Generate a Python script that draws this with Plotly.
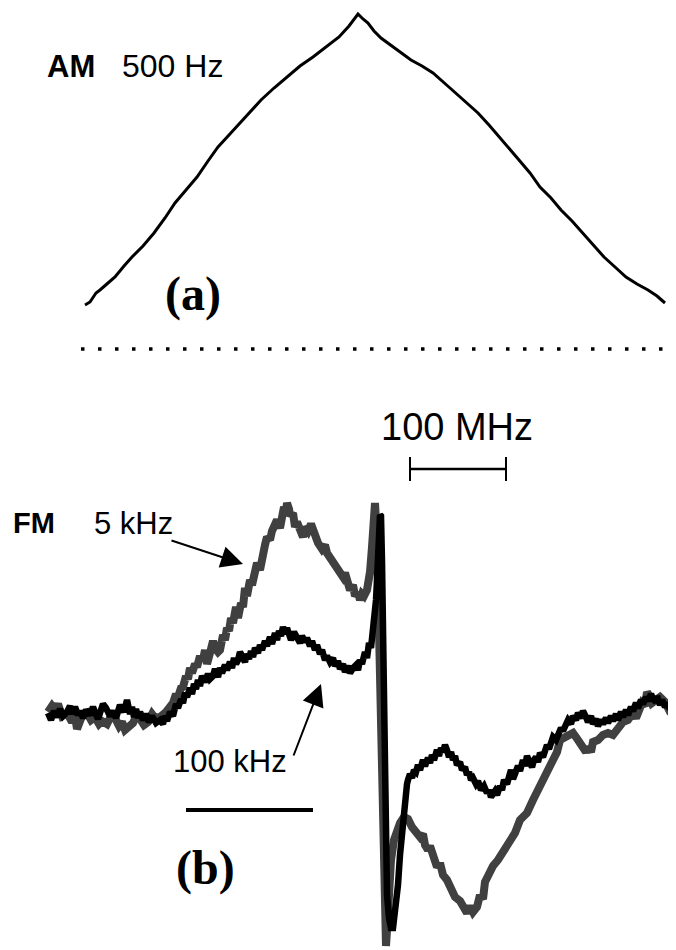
"""Two-panel AM / FM trace figure, drawn on a pixel-like canvas."""

import plotly.graph_objects as go

# ---- data (canvas units, y grows downward) ----
am_x = [85, 90, 96, 100, 108, 115, 124, 132, 143, 154, 165, 175, 186, 197, 208,
        218, 229, 240, 250, 261, 274, 287, 300, 313, 326, 339, 349, 358,
        363, 368, 374, 381, 396, 411, 422, 433, 450, 467, 478, 489, 504, 519,
        530, 540, 551, 561, 572, 583, 594, 604, 615, 626, 637, 648, 657, 665]
am_y = [305, 302, 293, 290, 283, 277, 266, 257, 246, 233, 218, 203, 190, 177, 161,
        147, 135, 123, 111, 100, 88, 77, 66, 57, 47, 37, 26, 14,
        19, 23, 31, 38, 49, 60, 66, 73, 88, 103, 113, 125, 142, 160,
        173, 187, 198, 210, 221, 233, 245, 257, 267, 277, 284, 290, 296, 303]

gray_x = [48, 52, 55, 58, 62, 67, 72, 75, 77, 80, 82, 87, 91, 95, 99, 102, 107, 111, 115,
          119, 122, 125, 128, 133, 137, 140, 144, 148, 152, 155, 160, 166, 170, 173, 176,
          178, 181, 183, 186, 188, 190, 192, 195, 197, 200, 203, 205, 207, 210,
          213, 215, 218, 220, 223, 225, 227, 229, 231, 233, 236, 238, 241, 243, 245,
          247, 250, 252, 254, 257, 260, 262, 265, 267, 270, 272, 275, 277, 280, 282,
          284, 286, 287, 289, 290, 293, 295, 297, 300, 303, 305, 308, 311, 313, 316,
          318, 322, 325, 327, 330, 333, 337, 340, 343, 345, 348, 350, 353, 355, 358,
          360, 362, 364, 367, 370, 372, 374, 375, 377,
          379, 381, 383, 384, 385, 386, 387, 389, 391, 394, 397, 400, 404, 408, 412, 416,
          420, 423, 425, 428, 430, 434, 437, 440, 443, 447, 450, 455, 460, 463, 467,
          470, 473, 477, 480, 483, 485, 488, 490, 493,
          498, 501, 504, 507, 510, 515, 520, 527, 533, 538, 543, 548, 553, 557, 560,
          565, 570, 573, 578, 583, 586, 588, 591, 593, 598, 603, 608, 613, 618, 623,
          628, 633, 636, 638, 642, 645, 647, 650, 652, 656, 660, 665, 670, 676]
gray_y = [712, 706, 710, 704, 716, 713, 722, 716, 729, 718, 716, 713, 720, 717, 724, 721,
          724, 716, 718, 726, 722, 730, 727, 723, 714, 719, 725, 722, 714, 718, 717,
          712, 708, 703, 694, 697, 688, 687, 676, 679, 668, 673, 664, 667, 656,
          660, 650, 664, 653, 641, 648, 652, 650, 635, 640, 628, 631, 618, 623,
          607, 618, 603, 607, 588, 596, 580, 585, 574, 563, 570, 555, 545, 537,
          540, 531, 523, 520, 528, 518, 507, 512, 503, 509, 516, 513, 527, 522,
          528, 537, 527, 531, 524, 530, 540, 543, 549, 545, 553, 558, 563, 568,
          572, 577, 573, 582, 590, 585, 596, 592, 600, 594, 596, 590, 572, 547,
          520, 503, 540, 640, 760, 880, 930, 946, 946, 930, 880, 860, 840, 830, 823, 817,
          819, 827, 832, 837, 834, 845, 850, 846, 858, 867, 863, 875, 880, 888,
          897, 901, 907, 913, 906, 912, 907, 895, 899, 882, 876, 870, 866, 860,
          855, 851, 847, 840, 833, 820, 813, 800, 790, 780, 772, 764, 752, 740,
          737, 735, 733, 740, 746, 752, 747, 752, 742, 740, 735, 733, 735, 728,
          722, 720, 713, 718, 712, 703, 706, 692, 697, 703, 700, 697, 702, 712, 717]

black_x = [48, 51, 54, 57, 60, 63, 67, 70, 72, 75, 78, 80, 83, 86, 90, 93, 95, 98, 100,
           103, 106, 110, 113, 116, 120, 124, 127, 130, 132, 134, 136, 138, 140, 143, 146,
           149, 152, 156, 160, 163, 165, 167, 170, 173, 176, 178, 181, 183, 185, 187, 190,
           192, 194, 196, 198, 200, 202, 205, 208, 210, 213, 215, 218, 220, 222, 225, 227,
           230, 232, 234, 236, 238, 240, 242, 245, 247, 249, 251, 253, 255, 258, 260, 262,
           265, 267, 270, 272, 275, 277, 279, 281, 283, 285, 287, 289, 291, 294, 297, 300,
           302, 305, 307, 310, 312, 315, 317, 320, 322, 325, 327, 330, 333, 335, 338, 340,
           343, 345, 348, 350, 353, 356, 358, 360, 362, 365, 367, 369, 371, 373, 375,
           376, 377, 378, 379, 380, 381, 382, 383, 384, 385, 386, 387, 389, 391, 393, 395,
           398, 400, 402, 404, 405, 407, 408, 410, 412, 414, 416, 418, 420, 423, 425, 428,
           430, 432, 434, 437, 439, 441, 443, 445, 447, 449, 451, 453, 455, 457, 460, 462,
           465, 467, 469, 471, 473, 476, 478, 481, 484, 487, 489, 491, 493, 495, 497, 500,
           502, 504, 507, 509, 511, 513, 515, 518, 520, 523, 525, 527, 530, 532, 534, 536,
           538, 540, 543, 545, 547, 549, 551, 553, 556, 558, 561, 563, 566, 568, 571, 573,
           576, 578, 581, 583, 586, 588, 591, 593, 596, 598, 601, 603, 606, 608, 611, 613,
           616, 618, 621, 623, 626, 628, 631, 633, 636, 638, 641, 643, 646, 648, 651, 653,
           656, 657, 660, 662, 665, 667, 670, 672, 676]
black_y = [713, 720, 711, 717, 709, 716, 712, 706, 714, 707, 715, 711, 718, 710, 715, 707,
           712, 719, 713, 704, 708, 716, 711, 718, 705, 712, 700, 714, 707, 717, 709, 718,
           712, 720, 714, 722, 716, 723, 720, 724, 716, 721, 712, 716, 704, 708, 699, 703,
           693, 697, 688, 694, 684, 689, 680, 686, 676, 682, 674, 679, 676, 669, 677, 668,
           673, 665, 670, 662, 668, 658, 664, 660, 652, 658, 662, 654, 659, 651, 657, 648,
           653, 645, 650, 641, 646, 637, 644, 633, 640, 631, 636, 627, 634, 628, 635, 640,
           632, 638, 643, 636, 642, 638, 646, 641, 650, 645, 654, 650, 660, 656, 662, 658,
           666, 661, 669, 664, 672, 666, 673, 668, 665, 670, 660, 664, 652, 658, 643, 648,
           632, 620, 600, 580, 555, 530, 515, 516, 560, 640, 730, 810, 860, 895, 918, 928,
           928, 915, 885, 855, 830, 815,
           795, 784, 780, 774, 778, 770, 772, 765, 770, 760, 766, 758,
           763, 755, 760, 750, 756, 748, 752, 745, 750, 757, 752, 760, 756, 765, 762, 770,
           767, 775, 772, 780, 778, 784, 781, 790, 786, 793, 790, 797, 794, 791, 795, 786,
           790, 780, 784, 776, 770, 779, 772, 766, 771, 760, 766, 756, 763, 767, 760, 757,
           762, 753, 757, 750, 745, 749, 741, 737, 740, 733, 728, 731, 725, 720, 724, 716,
           720, 713, 718, 711, 717, 722, 716, 724, 719, 726, 720, 724, 718, 723, 716, 721,
           714, 720, 712, 717, 710, 715, 707, 711, 703, 708, 700, 704, 697, 701, 694, 699,
           702, 696, 705, 700, 707, 703, 709, 703, 707]

dot_row_y = 349
dot_row_x = [81, 676]
mhz_bar_x = [410, 506]
mhz_bar_y = 469
khz_bar_x = [186, 313]
khz_bar_y = 810

# the page body has an 8px margin, so the drawable canvas starts at pixel 8
OFF = 8
W, H = 676, 950
SANS = "Liberation Sans, Arial, sans-serif"
SERIF = "Liberation Serif, Times New Roman, serif"

fig = go.Figure()

fig.add_trace(go.Scatter(x=am_x, y=am_y, mode="lines",
                         line=dict(color="#000000", width=3)))
fig.add_trace(go.Scatter(x=gray_x, y=gray_y, mode="lines",
                         line=dict(color="#404040", width=8)))
fig.add_trace(go.Scatter(x=black_x, y=black_y, mode="lines",
                         line=dict(color="#000000", width=6.5)))

# dotted separator
fig.add_shape(type="line", x0=dot_row_x[0], x1=dot_row_x[1], y0=dot_row_y, y1=dot_row_y,
              line=dict(color="#000000", width=3.5, dash="3.5px,13.5px"))

# 100 MHz scale bar with end ticks
fig.add_shape(type="line", x0=mhz_bar_x[0], x1=mhz_bar_x[1], y0=mhz_bar_y, y1=mhz_bar_y,
              line=dict(color="#000000", width=2.5))
for xb in mhz_bar_x:
    fig.add_shape(type="line", x0=xb, x1=xb, y0=mhz_bar_y - 12, y1=mhz_bar_y + 12,
                  line=dict(color="#000000", width=2))

# plain bar under the FM traces
fig.add_shape(type="line", x0=khz_bar_x[0], x1=khz_bar_x[1], y0=khz_bar_y, y1=khz_bar_y,
              line=dict(color="#000000", width=4))


def label(text, x, y, size, family=SANS, xanchor="left"):
    fig.add_annotation(x=x, y=y, text=text, showarrow=False, xanchor=xanchor,
                       yanchor="middle", font=dict(family=family, size=size, color="#000000"))


label("<b>AM</b>", 45, 66, 31)
label("500 Hz", 120, 66, 32)
label("<b>(a)</b>", 163, 294, 48, SERIF)
label("100 MHz", 457, 427, 38, xanchor="center")
label("<b>FM</b>", 11, 523, 29)
label("5 kHz", 92, 523, 31)
label("100 kHz", 171, 761, 31)
label("<b>(b)</b>", 174, 868, 48, SERIF)

# arrows pointing at the two traces
for tail, tip in [((170, 540), (243, 564)), ((293, 757), (321, 684))]:
    fig.add_annotation(x=tip[0], y=tip[1], ax=tail[0], ay=tail[1], xref="x", yref="y",
                       axref="x", ayref="y", text="", showarrow=True,
                       arrowhead=2, arrowsize=2.2, arrowwidth=2, arrowcolor="#000000")

fig.update_layout(
    width=W - OFF, height=H - OFF,
    margin=dict(l=0, r=0, t=0, b=0),
    paper_bgcolor="white", plot_bgcolor="white",
    showlegend=False,
)
fig.update_xaxes(range=[OFF, W], visible=False, fixedrange=True)
fig.update_yaxes(range=[H, OFF], visible=False, fixedrange=True)

fig.write_html("out.html")
